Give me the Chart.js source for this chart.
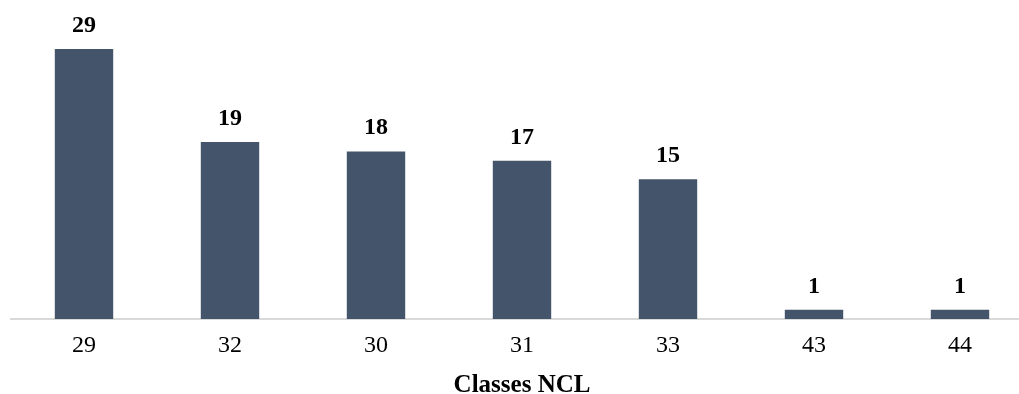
<!DOCTYPE html>
<html>
<head>
<meta charset="utf-8">
<script src="https://cdn.jsdelivr.net/npm/chart.js@4/dist/chart.umd.min.js"></script>
<style>
  html, body { margin: 0; padding: 0; background: #fff; overflow: hidden; }
  #wrap { width: 1034px; height: 400px; position: relative; }
</style>
</head>
<body>
<div id="wrap"><canvas id="ncl"></canvas></div>
<script>
// data
const classes = ['29', '32', '30', '31', '33', '43', '44'];
const counts = [29, 19, 18, 17, 15, 1, 1];
const axisTitle = 'Classes NCL';

const serif = '"Liberation Serif", "Times New Roman", serif';

// value labels above bars
const valueLabels = {
  id: 'valueLabels',
  afterDatasetsDraw(chart) {
    const ctx = chart.ctx;
    const meta = chart.getDatasetMeta(0);
    ctx.save();
    ctx.font = 'bold 24px ' + serif;
    ctx.fillStyle = '#000';
    ctx.textAlign = 'center';
    ctx.textBaseline = 'alphabetic';
    meta.data.forEach((bar, i) => {
      ctx.fillText(String(counts[i]), bar.x, bar.y - 17);
    });
    ctx.restore();
  }
};

new Chart(document.getElementById('ncl'), {
  type: 'bar',
  data: {
    labels: classes,
    datasets: [{
      data: counts,
      backgroundColor: '#44546A',
      barPercentage: 0.4,
      categoryPercentage: 1
    }]
  },
  options: {
    responsive: true,
    maintainAspectRatio: false,
    animation: false,
    layout: { padding: { left: 11, right: 1, top: 21, bottom: 0 } },
    plugins: { legend: { display: false }, tooltip: { enabled: false } },
    scales: {
      x: {
        grid: { display: false, drawTicks: false, tickLength: 0 },
        border: { display: true, color: '#d9d9d9', width: 2 },
        ticks: {
          color: '#000',
          padding: 15,
          maxRotation: 0,
          font: { family: serif, size: 24, lineHeight: 1 }
        },
        title: {
          display: true,
          text: axisTitle,
          color: '#000',
          padding: { top: 0, bottom: 2 },
          font: { family: serif, size: 25, weight: 'bold', lineHeight: 1 }
        }
      },
      y: {
        display: false,
        min: 0,
        max: 32
      }
    }
  },
  plugins: [valueLabels]
});
</script>
</body>
</html>
